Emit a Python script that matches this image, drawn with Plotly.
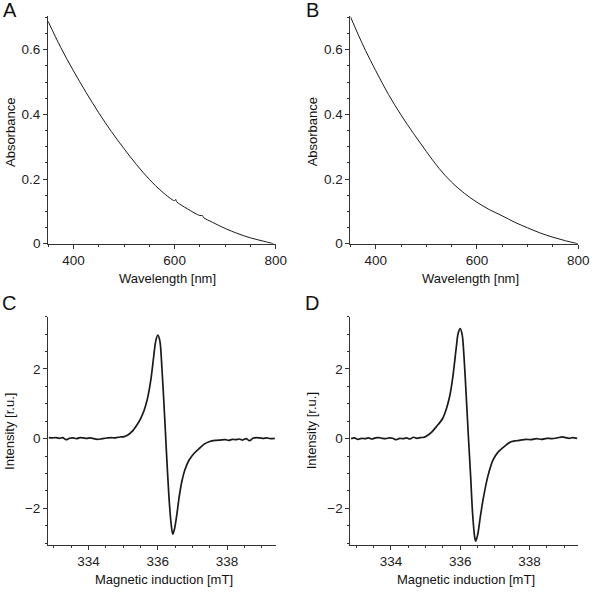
import plotly.graph_objects as go

# UV-Vis spectra (panels A and B)
wl_a = [350, 375, 400, 425, 450, 475, 500, 525, 550, 575, 600, 602, 604,
        625, 650, 655, 657, 675, 700, 725, 750, 775, 795]
abs_a = [0.688, 0.607, 0.535, 0.468, 0.405, 0.347, 0.294, 0.244, 0.199, 0.161, 0.133, 0.137, 0.130,
         0.108, 0.087, 0.087, 0.081, 0.066, 0.047, 0.031, 0.018, 0.008, 0.0]

wl_b = [350, 365, 380, 400, 425, 450, 475, 500, 525, 550, 575, 600, 625, 650, 675,
        700, 725, 750, 775, 799]
abs_b = [0.702, 0.648, 0.597, 0.535, 0.462, 0.398, 0.340, 0.285, 0.233, 0.190, 0.156,
         0.128, 0.105, 0.086, 0.066, 0.049, 0.033, 0.020, 0.009, 0.0]

# EPR spectra (panels C and D)
field_c = [332.85, 332.95, 333.05, 333.15, 333.25, 333.35, 333.45, 333.55, 333.65, 333.75,
           333.85, 333.95, 334.05, 334.15, 334.25, 334.35, 334.45, 334.55, 334.65, 334.75,
           334.85, 334.95, 335.03, 335.11, 335.25, 335.40, 335.50, 335.60, 335.70, 335.80,
           335.88, 335.94, 336.00, 336.06, 336.12, 336.18, 336.25, 336.32, 336.38, 336.43,
           336.48, 336.55, 336.62, 336.70, 336.78, 336.90, 337.05, 337.20, 337.35, 337.50,
           337.65, 337.80, 337.95, 338.05, 338.15, 338.25, 338.35, 338.45, 338.55, 338.65,
           338.75, 338.85, 338.95, 339.05, 339.15, 339.25, 339.38]
int_c = [0.03, 0.02, 0.03, 0.01, 0.03, -0.03, 0.01, 0.02, 0.00, 0.03,
         0.02, 0.01, 0.02, 0.00, -0.02, -0.01, 0.01, 0.02, 0.03, 0.02,
         0.04, 0.05, 0.06, 0.09, 0.20, 0.40, 0.57, 0.80, 1.15, 1.70,
         2.35, 2.80, 2.97, 2.80, 2.00, 0.95, -0.40, -1.65, -2.40, -2.74,
         -2.60, -2.17, -1.65, -1.20, -0.90, -0.62, -0.42, -0.28, -0.15, -0.08,
         -0.05, -0.04, -0.03, -0.05, -0.02, -0.03, -0.01, -0.04, 0.00, -0.06,
         0.01, 0.03, 0.02, 0.01, 0.02, 0.00, 0.01]

field_d = [332.85, 332.95, 333.05, 333.15, 333.25, 333.35, 333.45, 333.55, 333.65, 333.75,
           333.85, 333.95, 334.05, 334.15, 334.25, 334.35, 334.45, 334.55, 334.65, 334.75,
           334.85, 334.95, 335.02, 335.16, 335.30, 335.49, 335.60, 335.70, 335.79, 335.89,
           335.94, 336.00, 336.06, 336.11, 336.17, 336.23, 336.30, 336.36, 336.42, 336.45,
           336.51, 336.58, 336.67, 336.81, 336.95, 337.10, 337.28, 337.47, 337.62, 337.75,
           337.90, 338.05, 338.20, 338.35, 338.50, 338.65, 338.80, 338.95, 339.05, 339.15,
           339.25, 339.38]
int_d = [0.00, 0.02, -0.02, 0.01, 0.00, 0.02, -0.01, 0.02, 0.03, 0.01,
         0.00, 0.02, 0.01, -0.03, 0.01, 0.00, 0.02, -0.01, 0.04, 0.01,
         0.03, 0.04, 0.07, 0.17, 0.33, 0.57, 0.85, 1.23, 1.79, 2.64,
         3.02, 3.16, 2.97, 2.36, 1.32, 0.19, -1.04, -2.17, -2.83, -2.94,
         -2.74, -2.26, -1.70, -1.04, -0.61, -0.38, -0.22, -0.09, -0.06, -0.04,
         -0.02, -0.03, 0.00, -0.02, 0.01, 0.00, 0.02, 0.05, 0.03, 0.01,
         0.03, 0.01]

W, H = 600, 595
font = "Arial, Liberation Sans, sans-serif"
ink = "#1a1a1a"


def px_x(p):
    return p / W


def px_y(p):
    return 1 - p / H


fig = go.Figure()
fig.add_trace(go.Scatter(x=wl_a, y=abs_a, mode="lines", line=dict(color=ink, width=1, shape="spline"),
                         xaxis="x", yaxis="y"))
fig.add_trace(go.Scatter(x=wl_b, y=abs_b, mode="lines", line=dict(color=ink, width=1, shape="spline"),
                         xaxis="x2", yaxis="y2"))
fig.add_trace(go.Scatter(x=field_c, y=int_c, mode="lines", line=dict(color=ink, width=1.7, shape="spline", smoothing=0.8),
                         xaxis="x3", yaxis="y3"))
fig.add_trace(go.Scatter(x=field_d, y=int_d, mode="lines", line=dict(color=ink, width=1.7, shape="spline", smoothing=0.8),
                         xaxis="x4", yaxis="y4"))

axis_style = dict(showline=True, linecolor="#333", linewidth=1, ticks="outside", ticklen=4,
                  tickcolor="#333", tickwidth=1, showgrid=False, zeroline=False,
                  tickfont=dict(family=font, size=13.5, color="#222"))

left = [px_x(49), px_x(281)]
right = [px_x(357), px_x(589)]
top = [px_y(247), px_y(16)]
bottom = [px_y(552), px_y(321)]

wl_x = dict(axis_style, range=[350, 800], dtick=200,
            minor=dict(dtick=50, ticks="outside", ticklen=2, tickcolor="#333"))
abs_y = dict(axis_style, range=[0, 0.705], dtick=0.2,
             minor=dict(dtick=0.05, ticks="outside", ticklen=2, tickcolor="#333"))
mag_x = dict(axis_style, range=[332.83, 339.41], dtick=2,
             minor=dict(dtick=0.5, ticks="outside", ticklen=2, tickcolor="#333"))
int_y = dict(axis_style, range=[-3.04, 3.5], dtick=2,
             minor=dict(dtick=0.5, ticks="outside", ticklen=2, tickcolor="#333"))

fig.update_layout(
    width=W, height=H,
    margin=dict(l=0, r=0, t=0, b=0),
    paper_bgcolor="white", plot_bgcolor="white",
    showlegend=False,
    font=dict(family=font, size=13, color="#222"),
    xaxis=dict(wl_x, domain=left, anchor="y"),
    yaxis=dict(abs_y, domain=top, anchor="x"),
    xaxis2=dict(wl_x, domain=right, anchor="y2"),
    yaxis2=dict(abs_y, domain=top, anchor="x2"),
    xaxis3=dict(mag_x, domain=left, anchor="y3"),
    yaxis3=dict(int_y, domain=bottom, anchor="x3"),
    xaxis4=dict(mag_x, domain=right, anchor="y4"),
    yaxis4=dict(int_y, domain=bottom, anchor="x4"),
)

# panel letters and axis titles
labels = [
    ("A", 10, 10, 0, 20), ("B", 318, 10, 0, 20), ("C", 9, 307, 0, 20), ("D", 318, 307, 0, 20),
    ("Absorbance", 10, 134, -90, 13), ("Absorbance", 318, 134, -90, 13),
    ("Wavelength [nm]", 171, 282, 0, 13), ("Wavelength [nm]", 479, 282, 0, 13),
    ("Intensity [r.u.]", 9, 437, -90, 13), ("Intensity [r.u.]", 317, 437, -90, 13),
    ("Magnetic induction [mT]", 167, 587, 0, 13), ("Magnetic induction [mT]", 475, 587, 0, 13),
]
for text, x, y, ang, size in labels:
    fig.add_annotation(text=text, x=px_x(x), y=px_y(y), xref="paper", yref="paper",
                       xanchor="center", yanchor="middle", textangle=ang, showarrow=False,
                       font=dict(family=font, size=size, color="#111"))

# no page margin or scrollbars, so the figure sits exactly in the window
page_css = ("document.body.style.margin='0';"
            "document.body.style.overflow='hidden';"
            "document.documentElement.style.overflow='hidden';")
fig.write_html("out.html", config={"displayModeBar": False}, post_script=page_css)
